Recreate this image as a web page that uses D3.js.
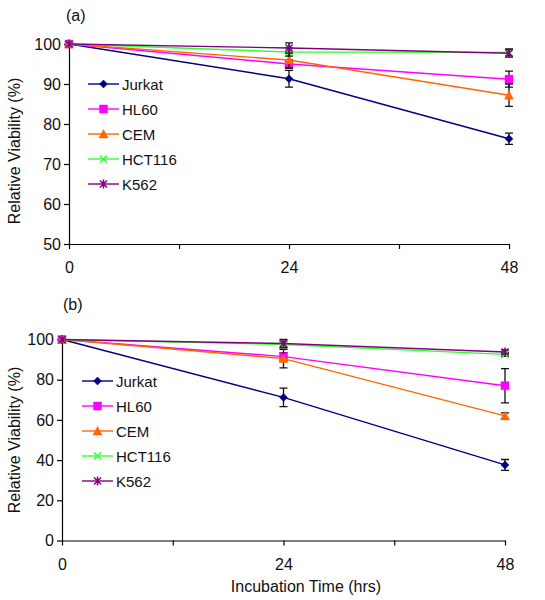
<!DOCTYPE html>
<html>
<head>
<meta charset="utf-8">
<script src="https://cdn.jsdelivr.net/npm/d3@7"></script>
<style>
  body { margin: 0; background: #fff; }
  svg { display: block; font-family: "Liberation Sans", Arial, sans-serif; }
</style>
</head>
<body>
<svg id="chart" width="545" height="600"></svg>
<script>
// ---- data ----
const times = [0, 24, 48];
const xTickValues = [0, 12, 24, 36, 48];
const xTickLabels = ["0", "", "24", "", "48"];
const seriesNames = ["Jurkat", "HL60", "CEM", "HCT116", "K562"];
const seriesColors = ["#000080", "#FF00FF", "#FF6600", "#33FF33", "#800080"];
const seriesMarkers = ["diamond", "square", "triangle", "x", "star"];

// panel (a)
const aJurkat = [100, 91.3, 76.3];
const aHL60   = [100, 95.0, 91.2];
const aCEM    = [100, 96.0, 87.2];
const aHCT116 = [100, 98.0, 97.9];
const aK562   = [100, 99.0, 97.7];
const aErrJurkat = [0, 2.1, 1.4];
const aErrHL60   = [0, 1.0, 2.0];
const aErrCEM    = [0, 2.0, 2.8];
const aErrHCT116 = [0, 1.0, 0.8];
const aErrK562   = [0, 1.3, 1.0];
const aYTicks = [50, 60, 70, 80, 90, 100];

// panel (b)
const bJurkat = [100, 71.2, 37.6];
const bHL60   = [100, 91.5, 77.0];
const bCEM    = [100, 90.5, 62.0];
const bHCT116 = [100, 97.5, 92.6];
const bK562   = [100, 98.0, 93.8];
const bErrJurkat = [0, 4.6, 2.7];
const bErrHL60   = [0, 2.0, 8.5];
const bErrCEM    = [0, 4.6, 1.5];
const bErrHCT116 = [0, 1.5, 1.0];
const bErrK562   = [0, 2.0, 1.0];
const bYTicks = [0, 20, 40, 60, 80, 100];

const svg = d3.select("#chart");

function markerPath(type, s) {
  const h = s / 2;
  switch (type) {
    case "diamond": return `M0,${-h}L${h},0L0,${h}L${-h},0Z`;
    case "square": return `M${-h},${-h}H${h}V${h}H${-h}Z`;
    case "triangle": return `M0,${-h - 0.5}L${h + 0.5},${h}L${-h - 0.5},${h}Z`;
    case "x": return `M${-h},${-h}L${h},${h}M${-h},${h}L${h},${-h}`;
    case "star": return `M${-h},${-h}L${h},${h}M${-h},${h}L${h},${-h}M0,${-h - 1}V${h + 1}`;
  }
}
function drawMarker(g, type, color, x, y) {
  const filled = type === "diamond" || type === "square" || type === "triangle";
  g.append("path")
    .attr("transform", `translate(${x},${y})`)
    .attr("d", markerPath(type, filled ? 8 : 7))
    .attr("fill", filled ? color : "none")
    .attr("stroke", color)
    .attr("stroke-width", filled ? 0.5 : 1.5);
}

function drawPanel(cfg) {
  const g = svg.append("g");
  const x = d3.scaleLinear().domain([0, 48]).range([cfg.left, cfg.right]);
  const y = d3.scaleLinear().domain(cfg.yDomain).range([cfg.bottom, cfg.top]);

  // axes
  const xAxis = d3.axisBottom(x).tickValues(xTickValues)
    .tickFormat((d, i) => xTickLabels[i]).tickSizeInner(5).tickSizeOuter(0).tickPadding(13);
  const yAxis = d3.axisLeft(y).tickValues(cfg.yTicks).tickFormat(d3.format("d"))
    .tickSizeInner(5).tickSizeOuter(0).tickPadding(3);
  const gx = g.append("g").attr("transform", `translate(0,${cfg.bottom})`).call(xAxis);
  const gy = g.append("g").attr("transform", `translate(${cfg.left},0)`).call(yAxis);
  [gx, gy].forEach(a => {
    a.selectAll("path, line").attr("stroke", "#000").attr("stroke-width", 1.2);
    a.selectAll("text").attr("font-size", 16).attr("fill", "#111")
      .attr("font-family", "'Liberation Sans', Arial, sans-serif");
  });

  // panel label
  g.append("text").attr("x", cfg.labelX).attr("y", cfg.labelY)
    .attr("font-size", 16).attr("fill", "#111").text(cfg.label);

  // y title
  g.append("text")
    .attr("transform", `translate(${cfg.yTitleX},${cfg.yTitleY}) rotate(-90)`)
    .attr("text-anchor", "middle").attr("font-size", 16).attr("fill", "#111")
    .text("Relative Viability (%)");

  if (cfg.xTitle) {
    g.append("text").attr("x", cfg.xTitleX).attr("y", cfg.xTitleY)
      .attr("text-anchor", "middle").attr("font-size", 16).attr("fill", "#111")
      .text(cfg.xTitle);
  }

  const line = d3.line().x((d, i) => x(times[i])).y(d => y(d));

  cfg.series.forEach((vals, si) => {
    const color = seriesColors[si];
    const errs = cfg.errors[si];
    g.append("path").datum(vals).attr("d", line)
      .attr("fill", "none").attr("stroke", color).attr("stroke-width", 1.4);
    vals.forEach((v, i) => {
      if (errs[i] > 0) {
        const cx = x(times[i]);
        const y1 = y(v + errs[i]), y2 = y(v - errs[i]);
        g.append("path")
          .attr("d", `M${cx},${y1}V${y2}M${cx - 4},${y1}H${cx + 4}M${cx - 4},${y2}H${cx + 4}`)
          .attr("stroke", "#111").attr("stroke-width", 1.3).attr("fill", "none");
      }
    });
    vals.forEach((v, i) => drawMarker(g, seriesMarkers[si], color, x(times[i]), y(v)));
  });

  // legend
  seriesNames.forEach((name, i) => {
    const ly = cfg.legendY + i * 25;
    g.append("line").attr("x1", cfg.legendX).attr("x2", cfg.legendX + 31)
      .attr("y1", ly).attr("y2", ly).attr("stroke", seriesColors[i]).attr("stroke-width", 1.4);
    drawMarker(g, seriesMarkers[i], seriesColors[i], cfg.legendX + 15.5, ly);
    g.append("text").attr("x", cfg.legendX + 34).attr("y", ly + 5.5)
      .attr("font-size", 15).attr("fill", "#111").text(name);
  });
}

drawPanel({
  label: "(a)", labelX: 66, labelY: 21,
  left: 69, right: 509, top: 44, bottom: 244,
  yDomain: [50, 100], yTicks: aYTicks, yTitleX: 20, yTitleY: 151,
  series: [aJurkat, aHL60, aCEM, aHCT116, aK562],
  errors: [aErrJurkat, aErrHL60, aErrCEM, aErrHCT116, aErrK562],
  legendX: 88, legendY: 84
});
drawPanel({
  label: "(b)", labelX: 63, labelY: 310,
  left: 62, right: 505, top: 339.5, bottom: 540.5,
  yDomain: [0, 100], yTicks: bYTicks, yTitleX: 20, yTitleY: 440,
  xTitle: "Incubation Time (hrs)", xTitleX: 306, xTitleY: 592,
  series: [bJurkat, bHL60, bCEM, bHCT116, bK562],
  errors: [bErrJurkat, bErrHL60, bErrCEM, bErrHCT116, bErrK562],
  legendX: 82, legendY: 381
});
</script>
</body>
</html>
